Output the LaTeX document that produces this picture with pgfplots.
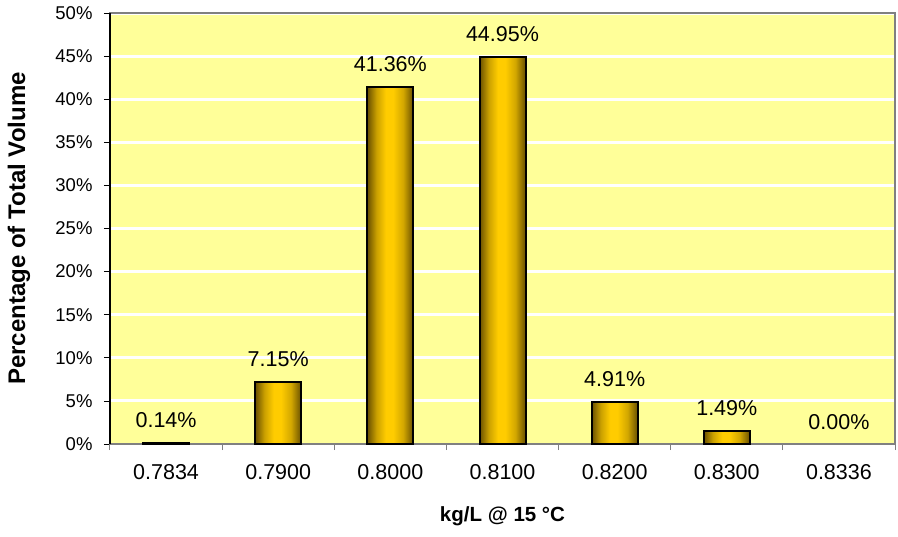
\documentclass[border=0pt]{standalone}
\usepackage{pgfplots}
\pgfplotsset{compat=1.18}
\usepackage{fontspec}
\setmainfont{Liberation Sans}
\definecolor{plotbg}{RGB}{255,255,153}
\definecolor{barmid}{RGB}{255,204,0}
\definecolor{baredge}{RGB}{105,80,0}
\definecolor{axgray}{RGB}{128,128,128}
\pgfdeclarehorizontalshading{barshade}{100bp}{color(0bp)=(baredge); color(25bp)=(baredge); color(35bp)=(barmid!65!baredge); color(45bp)=(barmid); color(53bp)=(barmid); color(64bp)=(barmid!70!baredge); color(75bp)=(baredge); color(100bp)=(baredge)}
\pgfplotsset{goldbar/.style={draw=black, line width=2bp, shade, shading=barshade, shading angle=0}}
\begin{document}
\begin{tikzpicture}
\begin{axis}[
  scale only axis,
  width=785bp, height=431bp,
  xmin=-0.5, xmax=6.5,
  ymin=0, ymax=50,
  axis background/.style={fill=plotbg},
  axis line style={axgray, line width=1.3bp},
  xtick={0,...,6},
  xticklabels={0.7834,0.7900,0.8000,0.8100,0.8200,0.8300,0.8336},
  major x tick style={draw=none},
  minor xtick={-0.5,0.5,...,6.5},
  minor x tick style={axgray, line width=1bp},
  minor tick length=6bp,
  ytick={0,5,...,50},
  yticklabel={\pgfmathprintnumber{\tick}\%},
  major y tick style={black, line width=0.8bp},
  major tick length=6bp,
  tick align=outside,
  xtick pos=bottom, ytick pos=left,
  ymajorgrids,
  grid style={white, line width=3bp},
  /pgf/number format/assume math mode=true,
  tick label style={font=\fontsize{18.5bp}{22bp}\selectfont, black},
  xticklabel style={font=\fontsize{21.5bp}{25bp}\selectfont, yshift=-11bp},
  yticklabel style={xshift=-8bp},
  xlabel={kg/L @ 15 °C},
  ylabel={Percentage of Total Volume},
  xlabel style={font=\bfseries\fontsize{20.5bp}{24bp}\selectfont, at={(rel axis cs:0.5,0)}, anchor=center, yshift=-72bp},
  ylabel style={font=\bfseries\fontsize{24bp}{28bp}\selectfont, at={(rel axis cs:0,0.5)}, anchor=center, yshift=91bp},
  ybar, bar width=46bp, bar shift=0pt,
  nodes near coords={\pgfmathprintnumber[fixed,fixed zerofill,precision=2]{\pgfplotspointmeta}\%},
  every node near coord/.append style={font=\fontsize{21.5bp}{25bp}\selectfont, black, yshift=11bp},
  clip=false,
]
\addplot[goldbar] coordinates {(0,0.14)};
\addplot[goldbar] coordinates {(1,7.15)};
\addplot[goldbar] coordinates {(2,41.36)};
\addplot[goldbar] coordinates {(3,44.95)};
\addplot[goldbar] coordinates {(4,4.91)};
\addplot[goldbar] coordinates {(5,1.49)};
\addplot[draw=none, fill=none] coordinates {(6,0.00)};
\draw[black, line width=1.3bp] (rel axis cs:0,0) -- (rel axis cs:0,1);
\end{axis}
\pgfresetboundingbox
\path[use as bounding box] (-110bp,-93bp) rectangle (788bp,444bp);
\end{tikzpicture}
\end{document}
